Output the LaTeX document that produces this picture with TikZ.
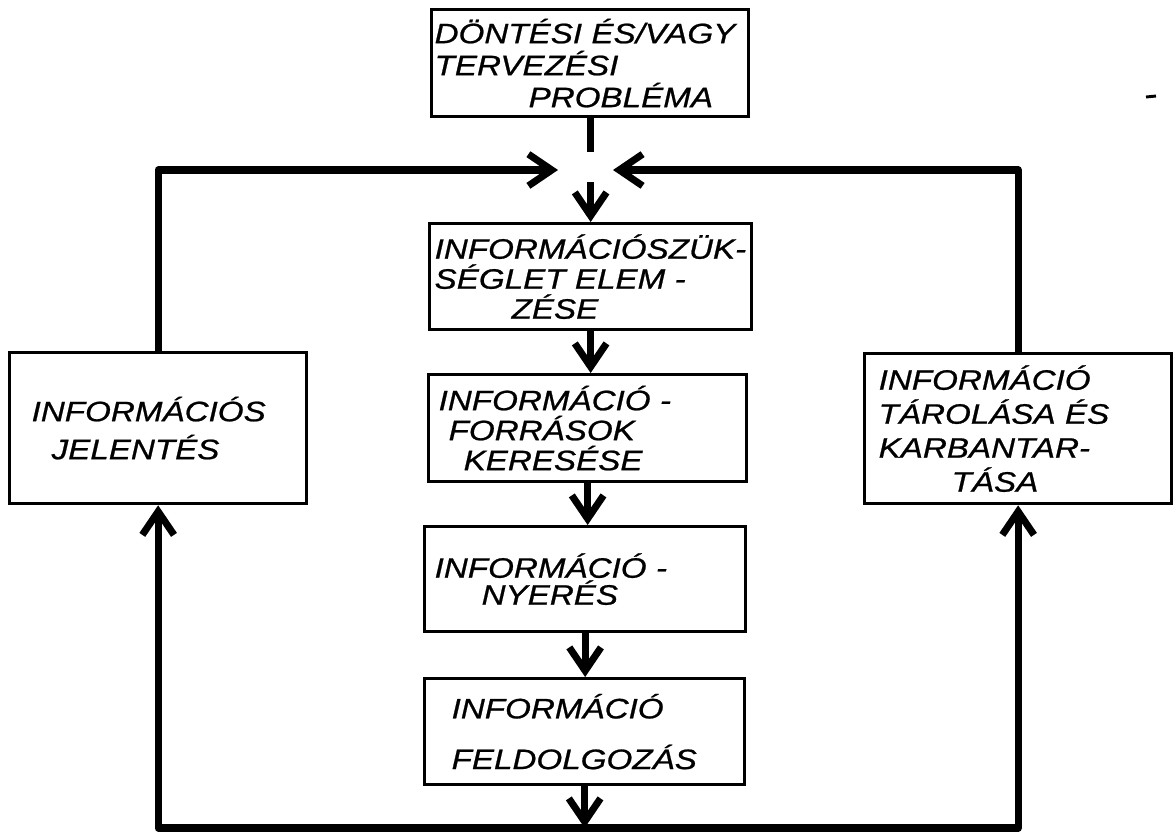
\documentclass[tikz,border=0pt]{standalone}
\usepackage{fontspec}
\setmainfont{Liberation Sans}[FakeStretch=1.18,FakeBold=0.8]
\usetikzlibrary{arrows.meta}
\begin{document}
\begin{tikzpicture}[x=0.03cm,y=-0.03cm,
  box/.style={draw, line width=2.8pt, anchor=north west, inner xsep=0pt, inner ysep=0pt, align=left},
  flow/.style={line width=6pt, line join=round},
  arr/.style={flow, -{Straight Barb[length=0.7cm,width=0.95cm]}},
  barrows/.style={flow, {Straight Barb[length=0.7cm,width=0.95cm]}-{Straight Barb[length=0.7cm,width=0.95cm]}}
]
\useasboundingbox (0,0) rectangle (1174,833);

\node[box, text width=9.51cm, minimum height=3.21cm, font=\itshape\fontsize{24}{27.3}\selectfont] (top) at (430,8)
 {\hspace*{0.09cm}\mbox{DÖNTÉSI ÉS/VAGY}\\
  \hspace*{0.09cm}\mbox{TERVEZÉSI}\\
  \hspace*{2.91cm}\mbox{PROBLÉMA}};

\node[box, text width=9.66cm, minimum height=3.18cm, font=\itshape\fontsize{24}{25.6}\selectfont] (b1) at (428,222)
 {\hspace*{0.15cm}\mbox{INFORMÁCIÓSZÜK-}\\
  \hspace*{0.15cm}\mbox{SÉGLET ELEM -}\\
  \hspace*{2.46cm}\mbox{ZÉSE}};

\node[box, text width=9.54cm, minimum height=3.21cm, font=\itshape\fontsize{24}{25.6}\selectfont] (b2) at (427,373)
 {\hspace*{0.3cm}\mbox{INFORMÁCIÓ -}\\
  \hspace*{0.6cm}\mbox{FORRÁSOK}\\
  \hspace*{1.05cm}\mbox{KERESÉSE}};

\node[box, text width=9.63cm, minimum height=3.15cm, font=\itshape\fontsize{24}{23}\selectfont] (b3) at (423,525)
 {\hspace*{0.3cm}\mbox{INFORMÁCIÓ -}\\
  \hspace*{1.71cm}\mbox{NYERÉS}};

\node[box, text width=9.6cm, minimum height=3.18cm, font=\itshape\fontsize{24}{37.6}\selectfont] (b4) at (423,677)
 {\raisebox{0.2cm}{\hspace*{0.81cm}\mbox{INFORMÁCIÓ}}\\
  \hspace*{0.81cm}\mbox{FELDOLGOZÁS}};

\node[box, text width=8.91cm, minimum height=4.53cm, font=\itshape\fontsize{24}{32.4}\selectfont] (left) at (8,351)
 {\hspace*{0.66cm}\mbox{INFORMÁCIÓS}\\
  \hspace*{1.26cm}\mbox{JELENTÉS}};

\node[box, text width=9.21cm, minimum height=4.5cm, font=\itshape\fontsize{24}{29}\selectfont] (right) at (863,352)
 {\hspace*{0.42cm}\mbox{INFORMÁCIÓ}\\
  \hspace*{0.42cm}\mbox{TÁROLÁSA ÉS}\\
  \hspace*{0.42cm}\mbox{KARBANTAR-}\\
  \hspace*{2.61cm}\mbox{TÁSA}};

% junction coordinates
\coordinate (jtop) at (top.south |- 0,152);
\coordinate (jbot) at (b1.north |- 0,182);
\coordinate (jl) at (558,170);
\coordinate (jr) at (613,170);
\coordinate (bl) at (left.south |- 0,828);
\coordinate (br) at (right.south |- 0,828);

% main chain
\draw[flow] (top.south) -- (jtop);
\draw[arr] (jbot) -- (b1.north);
\draw[arr] (b1.south) -- (b1.south |- b2.north);
\draw[arr] (b2.south) -- (b2.south |- b3.north);
\draw[arr] (b3.south) -- (b3.south |- b4.north);
\draw[arr] (b4.south) -- (b4.south |- bl);

% feedback loops
\draw[barrows] (left.south) -- (bl) -- (br) -- (right.south);
\draw[arr] (left.north) |- (jl);
\draw[arr] (right.north) |- (jr);

% stray mark
\coordinate (m1) at (1146,97);
\coordinate (m2) at (1156,96);
\draw[line width=2.5pt] (m1) -- (m2);
\end{tikzpicture}
\end{document}
